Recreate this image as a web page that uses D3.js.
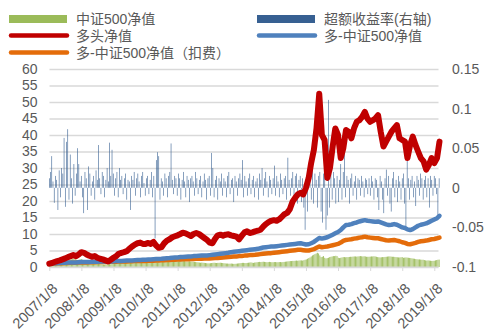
<!DOCTYPE html>
<html>
<head>
<meta charset="utf-8">
<script src="https://cdn.jsdelivr.net/npm/d3@7"></script>
<style>
  html, body { margin: 0; padding: 0; background: #fff; }
  text { font-family: "Liberation Sans", Arial, "Noto Sans CJK SC", sans-serif; fill: #595959; }
</style>
</head>
<body>
<svg id="chart" width="489" height="336"></svg>
<script>
// ---- categories -------------------------------------------------------
const xTickLabels = ["2007/1/8","2008/1/8","2009/1/8","2010/1/8","2011/1/8","2012/1/8","2013/1/8",
                     "2014/1/8","2015/1/8","2016/1/8","2017/1/8","2018/1/8","2019/1/8"];
const leftTicks  = [0,5,10,15,20,25,30,35,40,45,50,55,60];
const rightTicks = [-0.1,-0.05,0,0.05,0.1,0.15];

// monthly observations (8th of each month, 2007/1 – 2019/3)
const monthDates = d3.range(147).map(i => new Date(2007, i, 8));
// fortnightly observations starting 2007/1/8
const fortnightDates = d3.range(318).map(i => d3.timeDay.offset(new Date(2007, 0, 8), 14 * i));

// ---- series -----------------------------------------------------------
// 多头净值 (monthly)
const longNav = [
  1.0,1.2,1.5,1.8,2.0,2.3,2.6,3.0,3.3,3.6,3.3,3.8,
  4.5,4.3,3.8,3.4,3.1,3.3,2.8,2.5,2.3,2.0,1.7,2.2,
  2.8,3.3,4.0,4.3,4.5,4.8,5.5,6.2,6.8,7.2,7.4,7.0,
  7.0,7.3,7.0,7.6,6.5,5.8,6.0,7.2,8.0,8.4,9.0,9.3,
  9.6,10.0,10.4,10.2,9.8,9.4,10.0,10.3,10.0,9.4,8.8,8.2,
  7.4,7.2,8.5,9.6,9.8,9.5,9.8,9.9,9.6,9.4,9.2,8.4,
  9.5,10.5,10.8,10.3,10.5,10.8,11.0,11.3,12.2,13.0,13.6,14.0,
  14.2,14.0,14.4,15.2,16.0,16.4,17.5,19.8,21.0,22.0,22.5,22.0,
  24.0,27.0,31.5,35.5,42.0,52.5,40.0,38.5,27.0,30.0,36.5,42.0,
  40.0,33.0,36.0,41.5,41.0,39.0,42.0,44.0,44.5,45.5,47.0,45.0,
  44.0,44.5,45.0,46.0,41.0,36.5,38.0,39.5,41.0,42.0,43.0,39.0,
  38.5,38.0,33.0,37.0,39.5,37.0,35.0,33.0,32.0,29.5,31.0,33.0,
  31.5,33.0,38.0
];
// 多-中证500净值 (monthly)
const hedgedNav = [
  1.0,1.05,1.1,1.15,1.2,1.25,1.3,1.35,1.35,1.4,1.4,1.45,
  1.5,1.5,1.55,1.55,1.6,1.6,1.6,1.65,1.65,1.7,1.7,1.7,
  1.75,1.8,1.8,1.85,1.9,1.95,2.0,2.0,2.05,2.1,2.15,2.2,
  2.2,2.25,2.3,2.35,2.4,2.45,2.5,2.6,2.65,2.7,2.8,2.85,
  2.9,3.0,3.05,3.1,3.15,3.2,3.3,3.35,3.4,3.45,3.5,3.5,
  3.6,3.7,3.8,3.9,4.0,4.1,4.2,4.3,4.5,4.6,4.7,4.8,
  4.9,5.0,5.1,5.2,5.3,5.4,5.5,5.7,5.9,6.0,6.1,6.2,
  6.2,6.3,6.4,6.5,6.6,6.7,6.8,6.9,7.0,7.1,7.2,7.0,
  6.8,6.9,7.2,7.6,8.2,8.8,8.6,8.8,9.0,9.4,9.8,10.2,
  10.6,11.2,12.0,12.7,12.8,13.0,13.3,13.5,13.8,14.0,14.2,14.0,
  13.9,13.8,13.7,13.8,13.5,13.2,12.9,12.7,12.8,13.0,12.8,12.4,
  12.0,11.8,11.4,11.2,11.5,12.0,12.5,12.8,13.0,13.2,13.6,14.0,
  14.4,14.8,15.5
];
// 多-中证500净值（扣费） (monthly)
const hedgedNavNet = [
  1.0,1.03,1.06,1.1,1.13,1.16,1.2,1.23,1.25,1.28,1.3,1.33,
  1.36,1.38,1.4,1.42,1.44,1.46,1.48,1.5,1.52,1.54,1.56,1.58,
  1.6,1.62,1.64,1.66,1.68,1.7,1.72,1.75,1.78,1.8,1.82,1.85,
  1.85,1.88,1.9,1.92,1.95,2.0,2.02,2.06,2.1,2.14,2.18,2.22,
  2.25,2.3,2.32,2.35,2.38,2.4,2.45,2.48,2.5,2.52,2.55,2.55,
  2.6,2.65,2.7,2.75,2.8,2.9,2.95,3.0,3.1,3.15,3.2,3.3,
  3.35,3.45,3.5,3.6,3.65,3.7,3.8,3.9,4.0,4.1,4.15,4.2,
  4.3,4.4,4.5,4.6,4.7,4.8,4.9,5.0,5.1,5.2,5.2,5.1,
  5.0,5.0,5.2,5.4,5.8,6.2,6.0,6.1,6.2,6.4,6.6,6.8,
  7.0,7.4,7.9,8.2,8.3,8.4,8.6,8.7,8.9,9.0,9.2,9.0,
  8.9,8.8,8.7,8.7,8.5,8.3,8.1,8.0,8.1,8.2,8.0,7.8,
  7.5,7.3,7.0,6.9,7.1,7.3,7.6,7.8,7.9,8.0,8.2,8.4,
  8.5,8.7,8.9
];
// 中证500净值 (fortnightly)
const csi500Nav = [
  1.0,1.05,1.1,1.2,1.3,1.4,1.5,1.6,1.7,1.6,1.7,1.8,1.9,1.75,1.9,2.0,2.1,2.2,2.3,2.4,2.5,2.4,2.2,2.1,2.2,2.3,
  2.4,2.2,2.0,2.1,1.8,1.6,1.5,1.6,1.5,1.4,1.3,1.2,1.1,1.0,1.0,0.9,0.85,0.8,0.75,0.7,0.75,0.8,0.85,0.9,0.85,0.9,
  0.95,1.0,1.05,1.1,1.15,1.2,1.25,1.3,1.35,1.4,1.45,1.5,1.55,1.6,1.55,1.45,1.4,1.5,1.55,1.6,1.65,1.7,1.75,1.8,1.75,1.8,
  1.75,1.7,1.75,1.8,1.85,1.9,1.8,1.65,1.55,1.5,1.45,1.5,1.55,1.6,1.7,1.75,1.8,1.85,1.95,2.05,2.1,2.0,1.95,1.9,1.9,1.85,
  1.8,1.75,1.8,1.85,1.9,1.85,1.8,1.7,1.65,1.7,1.75,1.7,1.65,1.6,1.55,1.5,1.45,1.4,1.35,1.3,1.35,1.3,1.25,1.2,1.15,1.1,
  1.1,1.15,1.2,1.25,1.3,1.25,1.2,1.25,1.25,1.3,1.25,1.2,1.15,1.1,1.05,1.05,1.0,1.0,1.05,1.0,0.95,0.95,1.0,1.05,1.1,1.15,
  1.2,1.25,1.25,1.2,1.2,1.25,1.3,1.35,1.4,1.3,1.25,1.35,1.4,1.45,1.5,1.55,1.5,1.55,1.6,1.55,1.5,1.45,1.5,1.55,1.5,1.45,
  1.45,1.5,1.5,1.45,1.45,1.5,1.5,1.45,1.5,1.55,1.6,1.65,1.7,1.75,1.8,1.8,1.85,1.85,1.9,1.95,1.9,1.95,2.0,2.0,1.95,2.05,
  2.2,2.3,2.5,2.7,2.9,3.2,3.5,3.7,3.9,4.1,4.3,4.1,3.5,3.0,3.1,3.3,2.8,2.6,2.7,2.8,3.0,3.1,3.2,3.3,3.3,3.4,
  3.3,2.8,2.7,2.8,2.9,3.0,3.0,2.95,3.0,3.0,3.05,3.1,3.1,3.15,3.2,3.2,3.15,3.2,3.25,3.3,3.25,3.2,3.25,3.2,3.1,3.1,
  3.1,3.15,3.2,3.2,3.25,3.2,3.1,3.0,2.95,2.9,2.95,3.0,3.0,3.05,3.1,3.15,3.2,3.2,3.15,3.1,3.1,3.05,3.0,2.95,2.9,2.9,
  2.95,3.0,2.8,2.85,2.9,2.85,2.8,2.75,2.7,2.6,2.55,2.5,2.4,2.35,2.3,2.3,2.25,2.2,2.2,2.1,2.0,1.95,2.0,1.95,1.9,1.85,
  1.85,1.9,2.0,2.1,2.2,2.25
];
// 超额收益率 (fortnightly, right axis)
const excessReturn = [
  0.012,0.02,0.04,0.008,-0.019,0.015,0.01,-0.028,0.022,-0.012,0.025,0.018,0.063,-0.024,0.058,0.074,-0.015,0.042,0.012,-0.02,0.03,-0.01,0.018,0.05,0.03,0.008,
  0.015,-0.012,-0.032,0.02,0.012,-0.028,0.027,0.018,-0.01,0.008,0.015,-0.015,0.022,0.01,0.054,0.012,-0.008,0.02,0.015,-0.012,0.01,0.025,0.008,0.057,0.015,0.048,
  0.018,-0.01,0.012,0.02,-0.012,0.025,0.01,0.015,-0.008,0.012,0.018,-0.015,0.01,0.008,-0.028,0.015,0.01,0.02,-0.01,0.012,0.018,0.008,-0.012,0.015,0.02,0.006,
  -0.01,0.012,0.015,-0.008,0.01,0.02,-0.012,0.015,-0.064,0.035,0.045,0.04,-0.015,0.012,0.008,-0.01,0.018,0.012,-0.012,0.015,0.02,0.056,0.01,-0.008,0.015,0.012,
  -0.01,0.018,0.012,-0.015,0.01,0.02,0.008,-0.012,0.015,0.01,-0.018,0.012,0.015,0.008,-0.01,0.02,0.012,-0.008,0.01,0.015,-0.012,0.008,0.018,0.01,-0.015,0.012,
  0.015,-0.01,0.044,0.025,-0.012,0.01,0.015,-0.015,0.012,0.008,0.018,-0.01,0.012,0.008,-0.012,0.015,0.02,-0.008,0.01,0.012,-0.018,0.015,0.008,-0.01,0.012,0.018,
  0.01,0.035,-0.012,0.015,0.008,-0.01,0.012,0.018,-0.008,0.01,0.015,-0.012,0.008,0.012,-0.015,0.018,0.01,0.025,-0.01,0.012,0.02,0.008,-0.012,0.015,0.01,-0.008,
  0.012,0.028,-0.01,0.015,0.008,-0.012,0.018,0.01,-0.008,0.012,0.015,-0.015,0.038,0.01,-0.01,0.012,0.02,-0.012,0.015,0.018,-0.02,0.01,0.015,-0.018,0.012,-0.025,
  -0.053,0.015,-0.03,0.02,0.012,-0.015,0.025,-0.02,0.018,0.01,-0.025,0.015,0.02,-0.03,-0.044,0.018,0.025,-0.053,-0.035,0.111,-0.025,0.018,-0.015,0.02,0.012,-0.02,
  0.015,-0.018,0.01,0.03,-0.015,0.02,0.044,-0.012,0.015,0.01,-0.02,0.012,0.018,-0.01,0.008,0.015,-0.015,0.012,0.01,-0.01,0.015,0.008,-0.012,0.012,0.01,-0.008,
  0.012,-0.01,0.015,0.008,-0.015,0.012,0.01,-0.012,-0.028,0.015,0.008,-0.015,-0.032,0.012,0.023,-0.01,0.015,-0.02,-0.03,0.012,0.02,-0.012,0.01,-0.018,0.015,0.008,
  -0.015,0.012,0.018,-0.02,-0.049,0.035,0.012,-0.015,0.01,0.015,-0.012,0.008,-0.023,0.015,0.01,-0.01,0.018,0.012,-0.015,0.01,0.015,-0.012,0.012,-0.025,0.015,0.01,
  -0.01,0.015,0.012,-0.008,-0.036,0.012
];

// ---- layout -----------------------------------------------------------
const svg = d3.select("#chart");
const plot = { left: 49.5, right: 438.5, top: 69, bottom: 267 };
const parseDay = d3.timeParse("%Y/%m/%d");
const tickDates = xTickLabels.map(parseDay);

const x = d3.scaleTime()
  .domain([tickDates[0], tickDates[tickDates.length - 1]])
  .range([49.3, 434.3]);
const yL = d3.scaleLinear().domain([0, 60]).range([plot.bottom, plot.top]);
const yR = d3.scaleLinear().domain([-0.1, 0.15]).range([plot.bottom, plot.top]);

const gridColor = "#d9d9d9";

// horizontal gridlines
svg.append("g")
  .attr("transform", `translate(${plot.left},0)`)
  .call(d3.axisLeft(yL).tickValues(leftTicks).tickSize(-(plot.right - plot.left)).tickFormat(""))
  .call(g => g.select(".domain").remove())
  .call(g => g.selectAll("line").attr("stroke", gridColor).attr("stroke-width", 1.3));

// left axis labels
svg.append("g")
  .attr("transform", `translate(${plot.left},0)`)
  .call(d3.axisLeft(yL).tickValues(leftTicks).tickSize(0).tickPadding(12))
  .call(g => g.select(".domain").remove())
  .call(g => g.selectAll("text").style("font-size", "14px").attr("fill", "#595959"));

// right axis labels
svg.append("g")
  .attr("transform", `translate(${plot.right},0)`)
  .call(d3.axisRight(yR).tickValues(rightTicks).tickSize(0).tickPadding(13.5)
        .tickFormat(d => String(+d.toFixed(2))))
  .call(g => g.select(".domain").remove())
  .call(g => g.selectAll("text").style("font-size", "14px").attr("fill", "#595959"));

// green columns (left axis)
svg.append("g").selectAll("rect")
  .data(csi500Nav)
  .join("rect")
  .attr("x", (d, i) => x(fortnightDates[i]) - 0.45)
  .attr("width", 0.9)
  .attr("y", d => yL(d))
  .attr("height", d => yL(0) - yL(d))
  .attr("fill", "#9bbb59");

// excess return columns (right axis)
svg.append("g").selectAll("rect")
  .data(excessReturn)
  .join("rect")
  .attr("x", (d, i) => x(fortnightDates[i]) - 0.3)
  .attr("width", 0.6)
  .attr("y", d => Math.min(yR(d), yR(0)))
  .attr("height", d => Math.abs(yR(d) - yR(0)))
  .attr("fill", "#376092");

// bottom axis
const xAxis = svg.append("g")
  .attr("transform", `translate(0,${plot.bottom})`)
  .call(d3.axisBottom(x).tickValues(tickDates).tickSize(4)
        .tickFormat((d, i) => xTickLabels[i]));
xAxis.select(".domain").attr("stroke", gridColor).attr("d", `M${plot.left},0H${plot.right}`);
xAxis.selectAll(".tick line").attr("stroke", gridColor);
xAxis.selectAll("text")
  .style("font-size", "14.5px")
  .attr("fill", "#595959")
  .attr("text-anchor", "end")
  .attr("x", 0).attr("y", 0).attr("dy", "0.35em")
  .attr("transform", "translate(5,19) rotate(-45)");

// lines
const monthly = arr => arr.map((v, i) => [monthDates[i], v]);
const lineGen = d3.line().x(d => x(d[0])).y(d => yL(d[1]));
const lines = [
  { data: hedgedNavNet, color: "#e46c0a", width: 4.5 },
  { data: hedgedNav,    color: "#4f81bd", width: 4.5 },
  { data: longNav,      color: "#c00000", width: 6 }
];
svg.append("g").selectAll("path")
  .data(lines)
  .join("path")
  .attr("d", d => lineGen(monthly(d.data)))
  .attr("fill", "none")
  .attr("stroke", d => d.color)
  .attr("stroke-width", d => d.width)
  .attr("stroke-linejoin", "round")
  .attr("stroke-linecap", "round");

// legend
const legendItems = [
  { label: "中证500净值",          color: "#9bbb59", kind: "bar",  x: 9,   y: 19 },
  { label: "超额收益率(右轴)",      color: "#376092", kind: "bar",  x: 257, y: 19 },
  { label: "多头净值",             color: "#c00000", kind: "line", x: 9,   y: 35.5 },
  { label: "多-中证500净值",        color: "#4f81bd", kind: "line", x: 257, y: 35.5 },
  { label: "多-中证500净值（扣费）", color: "#e46c0a", kind: "line", x: 9,   y: 52.5 }
];
const lg = svg.append("g").selectAll("g").data(legendItems).join("g")
  .attr("transform", d => `translate(${d.x},${d.y})`);
lg.filter(d => d.kind === "bar").append("rect")
  .attr("x", 0).attr("y", -4).attr("width", 58).attr("height", 8)
  .attr("fill", d => d.color);
lg.filter(d => d.kind === "line").append("line")
  .attr("x1", 2).attr("x2", 58).attr("y1", 0).attr("y2", 0)
  .attr("stroke", d => d.color).attr("stroke-width", 4.5).attr("stroke-linecap", "round");
lg.append("text")
  .attr("x", 67).attr("y", 0).attr("dy", "0.36em")
  .style("font-size", "14px")
  .attr("fill", "#595959")
  .text(d => d.label);
</script>
</body>
</html>
